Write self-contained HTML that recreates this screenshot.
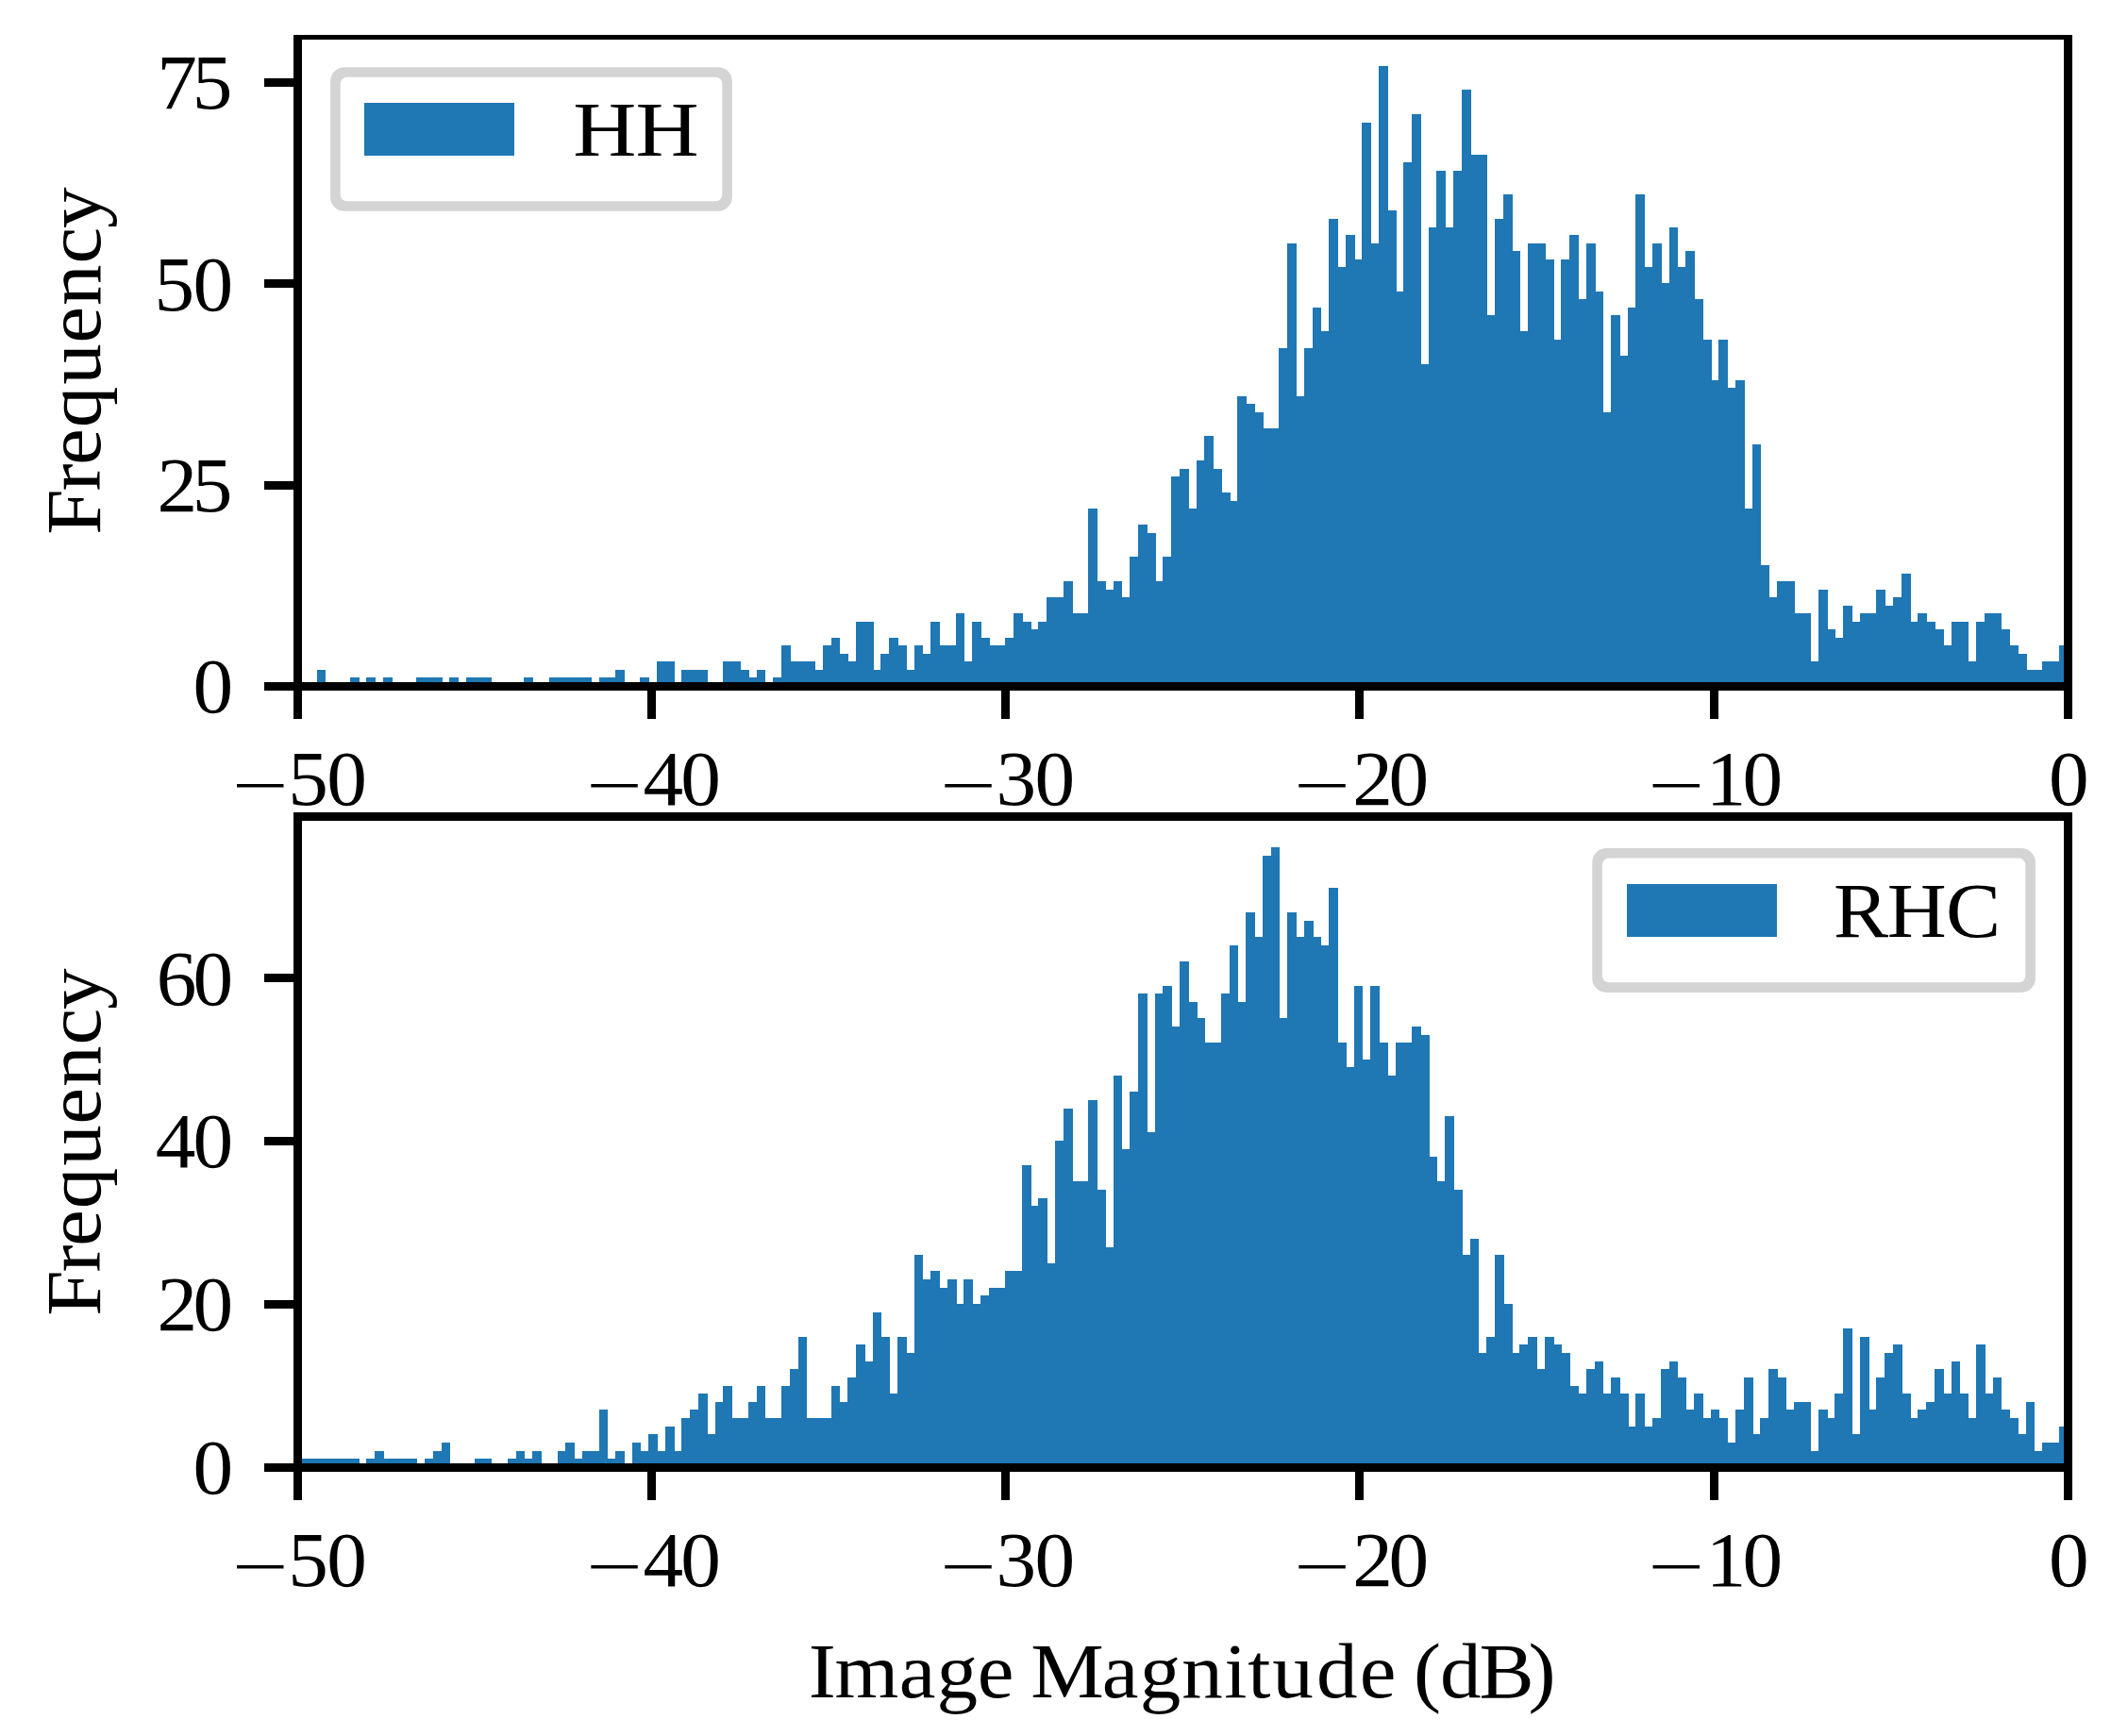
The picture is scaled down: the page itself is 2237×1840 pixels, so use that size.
<!DOCTYPE html>
<html lang="en"><head><meta charset="utf-8"><title>Image Magnitude Histograms</title>
<style>html,body{margin:0;padding:0;background:#fff}svg{display:block}text{font-family:"Liberation Serif", serif;font-size:82px;fill:#000}</style></head><body>
<svg xmlns="http://www.w3.org/2000/svg" width="2237" height="1840" viewBox="0 0 2237 1840">
<rect x="0" y="0" width="2237" height="1840" fill="#fff"/>
<path d="M315 727V727H336V710H345V727H371V718H381V727H388V718H398V727H406V718H416V727H441V718H469V727H476V718H486V727H494V718H521V727H555V718H565V727H582V718H627V727H635V718H652V710H662V727H678V718H688V727H696V701H715V727H722V710H750V727H766V701H785V710H794V718H802V710H811V727H819V718H828V684H838V701H864V710H872V684H881V676H890V693H899V701H907V659H926V710H933V693H942V676H952V684H961V710H969V684H978V693H986V659H996V684H1013V650H1022V701H1030V659H1040V676H1049V684H1065V676H1074V650H1084V659H1093V667H1100V659H1109V633H1127V616H1137V650H1153V539H1163V616H1172V625H1180V616H1189V633H1197V590H1206V556H1216V565H1225V616H1232V590H1241V505H1250V497H1260V539H1268V488H1276V462H1286V497H1295V522H1304V531H1311V420H1321V428H1330V437H1339V454H1355V369H1364V258H1374V420H1382V369H1391V326H1400V351H1408V232H1418V283H1426V249H1436V275H1443V130H1453V258H1461V70H1471V223H1480V309H1487V172H1496V121H1506V386H1514V241H1522V181H1532V241H1540V181H1549V95H1559V164H1576V334H1584V232H1593V206H1603V266H1611V351H1619V258H1638V275H1647V360H1654V275H1663V249H1673V317H1681V258H1691V309H1699V437H1707V334H1717V377H1725V326H1733V206H1743V283H1751V258H1761V300H1769V241H1778V283H1786V266H1796V317H1805V360H1814V403H1821V360H1831V411H1839V403H1849V539H1857V471H1866V599H1875V633H1883V616H1902V650H1919V701H1927V625H1937V667H1945V676H1953V642H1963V659H1971V650H1988V625H1998V642H2006V633H2015V608H2025V659H2032V650H2042V659H2051V667H2060V684H2068V659H2086V701H2094V659H2103V650H2121V667H2130V684H2139V693H2148V710H2164V701H2182V684H2192V727Z" fill="#1f77b4" shape-rendering="crispEdges"/>
<path d="M315 1555V1546H381V1555H388V1546H397V1538H407V1546H442V1555H450V1546H459V1538H468V1529H477V1555H503V1546H521V1555H538V1546H547V1538H556V1546H564V1538H574V1555H591V1538H599V1529H609V1546H617V1538H635V1494H644V1546H652V1538H662V1555H670V1529H679V1538H687V1520H697V1538H705V1512H715V1538H722V1503H731V1494H740V1477H750V1520H758V1486H766V1469H776V1503H793V1486H802V1469H811V1503H828V1469H837V1451H846V1417H855V1503H881V1469H890V1486H898V1460H907V1425H917V1443H925V1391H934V1417H943V1477H951V1417H961V1434H969V1330H978V1356H986V1347H996V1365H1004V1356H1014V1382H1021V1356H1031V1382H1039V1373H1048V1365H1065V1347H1083V1235H1093V1278H1100V1270H1110V1339H1118V1209H1127V1175H1137V1252H1153V1166H1163V1261H1172V1322H1180V1140H1189V1218H1197V1157H1206V1053H1216V1200H1224V1053H1232V1045H1242V1088H1250V1019H1260V1062H1269V1079H1277V1105H1294V1053H1303V1002H1312V1062H1320V967H1330V993H1338V907H1347V898H1356V1079H1364V967H1374V993H1382V976H1392V993H1400V1002H1408V941H1418V1105H1427V1131H1435V1045H1444V1123H1452V1045H1462V1105H1471V1140H1479V1105H1496V1088H1506V1097H1515V1226H1523V1252H1531V1183H1541V1261H1550V1330H1558V1313H1567V1434H1575V1417H1584V1330H1594V1382H1603V1434H1610V1425H1619V1417H1629V1451H1637V1417H1647V1425H1655V1434H1664V1469H1673V1477H1681V1451H1690V1443H1699V1477H1707V1460H1717V1477H1726V1512H1733V1477H1743V1512H1751V1503H1760V1451H1769V1443H1778V1460H1787V1494H1795V1477H1805V1503H1813V1494H1822V1503H1831V1529H1839V1494H1848V1460H1858V1520H1865V1503H1874V1451H1884V1460H1893V1494H1901V1486H1919V1538H1927V1494H1937V1503H1944V1477H1953V1408H1963V1520H1971V1417H1981V1494H1988V1460H1997V1434H2006V1425H2016V1477H2025V1503H2032V1494H2041V1486H2050V1451H2060V1477H2068V1443H2077V1477H2086V1503H2094V1425H2104V1477H2112V1460H2121V1494H2130V1503H2139V1520H2147V1486H2156V1538H2164V1529H2182V1512H2192V1555Z" fill="#1f77b4" shape-rendering="crispEdges"/>
<g fill="#000" shape-rendering="crispEdges">
<rect x="311" y="37" width="9" height="695"/>
<rect x="2187" y="37" width="9" height="695"/>
<rect x="311" y="37" width="1885" height="5"/>
<rect x="311" y="723" width="1885" height="9"/>
</g>
<g fill="#000" shape-rendering="crispEdges">
<rect x="311" y="861" width="9" height="699"/>
<rect x="2187" y="861" width="9" height="699"/>
<rect x="311" y="861" width="1885" height="9"/>
<rect x="311" y="1551" width="1885" height="9"/>
</g>
<g fill="#000" shape-rendering="crispEdges">
<rect x="311" y="727" width="9" height="35"/>
<rect x="686" y="727" width="9" height="35"/>
<rect x="1061" y="727" width="9" height="35"/>
<rect x="1436" y="727" width="9" height="35"/>
<rect x="1812" y="727" width="9" height="35"/>
<rect x="2187" y="727" width="9" height="35"/>
<rect x="311" y="1555" width="9" height="35"/>
<rect x="686" y="1555" width="9" height="35"/>
<rect x="1061" y="1555" width="9" height="35"/>
<rect x="1436" y="1555" width="9" height="35"/>
<rect x="1812" y="1555" width="9" height="35"/>
<rect x="2187" y="1555" width="9" height="35"/>
<rect x="280" y="723" width="35" height="9"/>
<rect x="280" y="510" width="35" height="9"/>
<rect x="280" y="296" width="35" height="9"/>
<rect x="280" y="83" width="35" height="9"/>
<rect x="280" y="1551" width="35" height="9"/>
<rect x="280" y="1378" width="35" height="9"/>
<rect x="280" y="1205" width="35" height="9"/>
<rect x="280" y="1032" width="35" height="9"/>
</g>
<rect x="350.1" y="71.2" width="425.8" height="152.6" rx="15" ry="15" fill="#d4d4d4"/>
<rect x="360.7" y="81.8" width="404.6" height="131.4" rx="7" ry="7" fill="#fff"/>
<rect x="386" y="109" width="159" height="56" fill="#1f77b4" shape-rendering="crispEdges"/>
<text transform="scale(1.12 1)" x="542.2 601.4" y="164.9" style="font-size:83px">HH</text>
<rect x="1687.3" y="899.0" width="469.6" height="152.9" rx="15" ry="15" fill="#d4d4d4"/>
<rect x="1697.9" y="909.6" width="448.4" height="131.7" rx="7" ry="7" fill="#fff"/>
<rect x="1724" y="937" width="159" height="56" fill="#1f77b4" shape-rendering="crispEdges"/>
<text transform="scale(1.05 1)" x="1850.5 1904.5 1963.9" y="992.8" style="font-size:83px">RHC</text>
<text transform="scale(1.04 1)" x="196.7" y="755.4" style="font-size:82px">0</text>
<text transform="scale(1.04 1)" x="160.0 195.8" y="542.0" style="font-size:82px">25</text>
<text transform="scale(1.04 1)" x="157.3 196.7" y="328.7" style="font-size:82px">50</text>
<text transform="scale(1.04 1)" x="159.9 195.8" y="115.3" style="font-size:82px">75</text>
<text transform="scale(1.04 1)" x="196.7" y="1583.4" style="font-size:82px">0</text>
<text transform="scale(1.04 1)" x="160.0 196.7" y="1410.5" style="font-size:82px">20</text>
<text transform="scale(1.04 1)" x="158.5 196.7" y="1237.5" style="font-size:82px">40</text>
<text transform="scale(1.04 1)" x="159.4 196.7" y="1064.6" style="font-size:82px">60</text>
<g>
<text transform="translate(245.8 855.8) scale(1.297 0.85)" x="0" y="0">−</text>
<text transform="scale(1.04 1)" x="293.5 332.9" y="852.9" style="font-size:82px">50</text>
</g>
<g>
<text transform="translate(620.9 855.8) scale(1.297 0.85)" x="0" y="0">−</text>
<text transform="scale(1.04 1)" x="655.4 693.6" y="852.9" style="font-size:82px">40</text>
</g>
<g>
<text transform="translate(996.0 855.8) scale(1.297 0.85)" x="0" y="0">−</text>
<text transform="scale(1.04 1)" x="1014.8 1054.3" y="852.9" style="font-size:82px">30</text>
</g>
<g>
<text transform="translate(1371.1 855.8) scale(1.297 0.85)" x="0" y="0">−</text>
<text transform="scale(1.04 1)" x="1378.2 1414.9" y="852.9" style="font-size:82px">20</text>
</g>
<g>
<text transform="translate(1746.2 855.8) scale(1.297 0.85)" x="0" y="0">−</text>
<text transform="scale(1.04 1)" x="1738.3 1775.6" y="852.9" style="font-size:82px">10</text>
</g>
<text transform="scale(1.04 1)" x="2087.5" y="852.9" style="font-size:82px">0</text>
<g>
<text transform="translate(245.8 1683.8) scale(1.297 0.85)" x="0" y="0">−</text>
<text transform="scale(1.04 1)" x="293.5 332.9" y="1680.9" style="font-size:82px">50</text>
</g>
<g>
<text transform="translate(620.9 1683.8) scale(1.297 0.85)" x="0" y="0">−</text>
<text transform="scale(1.04 1)" x="655.4 693.6" y="1680.9" style="font-size:82px">40</text>
</g>
<g>
<text transform="translate(996.0 1683.8) scale(1.297 0.85)" x="0" y="0">−</text>
<text transform="scale(1.04 1)" x="1014.8 1054.3" y="1680.9" style="font-size:82px">30</text>
</g>
<g>
<text transform="translate(1371.1 1683.8) scale(1.297 0.85)" x="0" y="0">−</text>
<text transform="scale(1.04 1)" x="1378.2 1414.9" y="1680.9" style="font-size:82px">20</text>
</g>
<g>
<text transform="translate(1746.2 1683.8) scale(1.297 0.85)" x="0" y="0">−</text>
<text transform="scale(1.04 1)" x="1738.3 1775.6" y="1680.9" style="font-size:82px">10</text>
</g>
<text transform="scale(1.04 1)" x="2087.5" y="1680.9" style="font-size:82px">0</text>
<text transform="translate(106.2 562.6) rotate(-90) scale(1.05 1)" x="-4.0 40.2 66.4 104.1 147.6 189.3 227.2 269.6 305.3" y="0" style="font-size:83px">Frequency</text>
<text transform="translate(106.2 1390.6) rotate(-90) scale(1.05 1)" x="-4.0 40.2 66.4 104.1 147.6 189.3 227.2 269.6 305.3" y="0" style="font-size:83px">Frequency</text>
<text transform="scale(1.05 1)" x="816.0 842.4 907.3 945.3 986.4 1020.8 1040.3 1112.1 1150.2 1192.7 1235.5 1259.3 1284.0 1328.6 1372.1 1406.9 1426.7 1453.4 1492.8 1542.5" y="1798.8" style="font-size:83px">Image Magnitude (dB)</text>
</svg></body></html>
